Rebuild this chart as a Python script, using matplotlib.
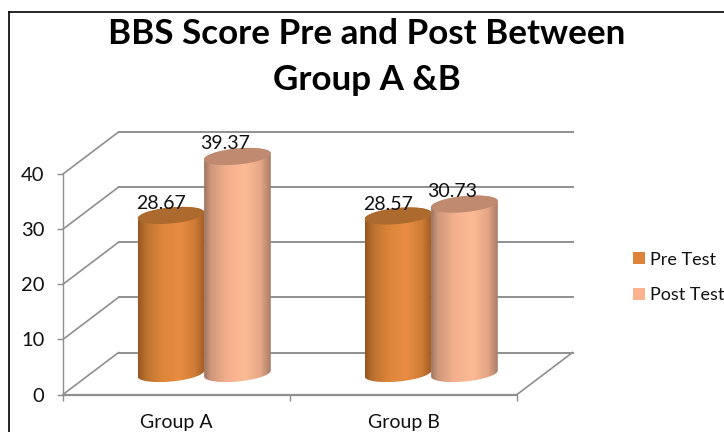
import numpy as np
import matplotlib
matplotlib.use("Agg")
import matplotlib.pyplot as plt
from matplotlib.path import Path
from matplotlib.patches import PathPatch, Patch
from matplotlib.colors import LinearSegmentedColormap

plt.rcParams['font.family'] = ['Lato', 'DejaVu Sans']

categories = ['Group A', 'Group B']
series_names = ['Pre Test', 'Post Test']
pre_test = [28.67, 28.57]
post_test = [39.37, 30.73]
y_ticks = [0, 10, 20, 30, 40]
title = 'BBS Score Pre and Post Between\nGroup A &B'

W, H = 724, 432
fig = plt.figure(figsize=(W / 100, H / 100), dpi=100)
L, R, B0, T = 63, 517, 394.5, 174
ax = fig.add_axes([L / W, 1 - B0 / H, (R - L) / W, (B0 - T) / H])
ax.set_xlim(0, 2)
ax.set_ylim(0, 40)

ux = 2 / (R - L)           # x units per pixel
uy = 40 / (B0 - T)         # y units per pixel
DX = 55.5 * ux             # 3-D depth
DY = 42 * uy
GRID = '#8f8f8f'

# back wall, side wall and floor
for v in y_ticks:
    ax.plot([DX, 2 + DX], [v + DY, v + DY], color=GRID, lw=1.4, clip_on=False, zorder=1)
    ax.plot([0, DX], [v, v + DY], color=GRID, lw=1.2, clip_on=False, zorder=1)
ax.plot([2, 2 + DX], [0, DY], color=GRID, lw=1.2, clip_on=False, zorder=1)

for s in ['top', 'right']:
    ax.spines[s].set_visible(False)
ax.spines['left'].set_color(GRID)
ax.spines['left'].set_linewidth(1.0)
ax.spines['bottom'].set_color(GRID)
ax.spines['bottom'].set_linewidth(1.6)
ax.set_yticks(y_ticks)
ax.set_xticks([0, 1, 2])
ax.set_xticklabels([])
ax.set_xticks([0.5, 1.5], minor=True)
ax.set_xticklabels(categories, minor=True)
ax.tick_params(axis='x', which='major', color=GRID, length=4.5, width=1)
ax.tick_params(axis='x', which='minor', length=0, labelsize=14, pad=14, labelcolor='#111111')
ax.tick_params(axis='y', color=GRID, length=4.5, width=1, labelsize=14.5, pad=9, labelcolor='#111111')


def ell(cx, cy, t, a=33.5, b=8.0, tilt=np.radians(5.5)):
    px = a * np.cos(t) * np.cos(tilt) - b * np.sin(t) * np.sin(tilt)
    py = a * np.cos(t) * np.sin(tilt) + b * np.sin(t) * np.cos(tilt)
    return cx + px * ux, cy + py * uy


def cylinder(xc, v, stops, top_col, z):
    base = DY / 2
    top = base + v
    t_low = np.linspace(np.pi, 2 * np.pi, 60)
    t_up = np.linspace(0, np.pi, 60)
    x1, y1 = ell(xc, base, t_low)
    x2, y2 = ell(xc, top, t_up)
    xs = np.r_[x1, x2]
    ys = np.r_[y1, y2]
    verts = np.c_[xs, ys]
    path = Path(np.vstack([verts, verts[0]]), closed=True)
    patch = PathPatch(path, fc='none', ec='none', transform=ax.transData)
    ax.add_patch(patch)
    cmap = LinearSegmentedColormap.from_list('c', stops)
    grad = np.linspace(0, 1, 256)[None, :]
    im = ax.imshow(grad, cmap=cmap, aspect='auto',
                   extent=[xs.min(), xs.max(), ys.min(), ys.max()],
                   zorder=z, interpolation='bilinear')
    im.set_clip_box(fig.bbox)
    im.set_clip_path(patch)
    tt = np.linspace(0, 2 * np.pi, 120)
    xt, yt = ell(xc, top, tt)
    ax.fill(xt, yt, color=top_col, lw=0, zorder=z + 0.1, clip_on=False)
    return top


pre_stops = [(0, '#95561f'), (0.12, '#bb7230'), (0.35, '#dc8539'), (0.62, '#e98d43'),
             (0.85, '#cf7c35'), (1, '#9e5c25')]
post_stops = [(0, '#9c7460'), (0.1, '#cf977a'), (0.35, '#f4b08c'), (0.62, '#fdbb95'),
              (0.85, '#e5a685'), (1, '#a87c66')]
half = 33.2 * ux
label_dx = [-10, -12]
for i, cat in enumerate(categories):
    cx = i + 0.5 + DX / 2
    top1 = cylinder(cx - half, pre_test[i], pre_stops, '#ad6a2e', 3 + i * 2)
    top2 = cylinder(cx + half, post_test[i], post_stops, '#bf8a70', 4 + i * 2)
    ax.annotate(f'{pre_test[i]:.2f}', (cx - half, top1), xytext=(label_dx[0] * 0.72, 11.5 * 0.72),
                textcoords='offset points', ha='center', va='center', fontsize=14,
                color='#111111', zorder=20, annotation_clip=False)
    ax.annotate(f'{post_test[i]:.2f}', (cx + half, top2), xytext=(label_dx[1] * 0.72, 12.5 * 0.72),
                textcoords='offset points', ha='center', va='center', fontsize=14,
                color='#111111', zorder=20, annotation_clip=False)

ax.set_xlim(0, 2)
ax.set_ylim(0, 40)
ax.patch.set_alpha(0)

fig.text(367 / W, 1 - 57 / H, title, ha='center', va='center', fontsize=25.2,
         fontweight='bold', color='black', linespacing=1.5)

handles = [Patch(color='#dd8238', lw=0), Patch(color='#fbb28f', lw=0)]
fig.legend(handles, series_names, loc='center left',
           bbox_to_anchor=(629.4 / W, 1 - 277.5 / H), frameon=False, fontsize=13,
           handlelength=0.67, handleheight=0.67, handletextpad=0.28, labelspacing=1.1,
           labelcolor='#111111', borderpad=0.2, borderaxespad=0)

# chart frame
fig.add_artist(plt.Line2D([8.5 / W, 8.5 / W], [0, 1 - 12 / H], color='black', lw=1.2))
fig.add_artist(plt.Line2D([8.5 / W, 1], [1 - 12 / H, 1 - 12 / H], color='black', lw=1.2))

fig.savefig('out.png', dpi=100, facecolor='white')
